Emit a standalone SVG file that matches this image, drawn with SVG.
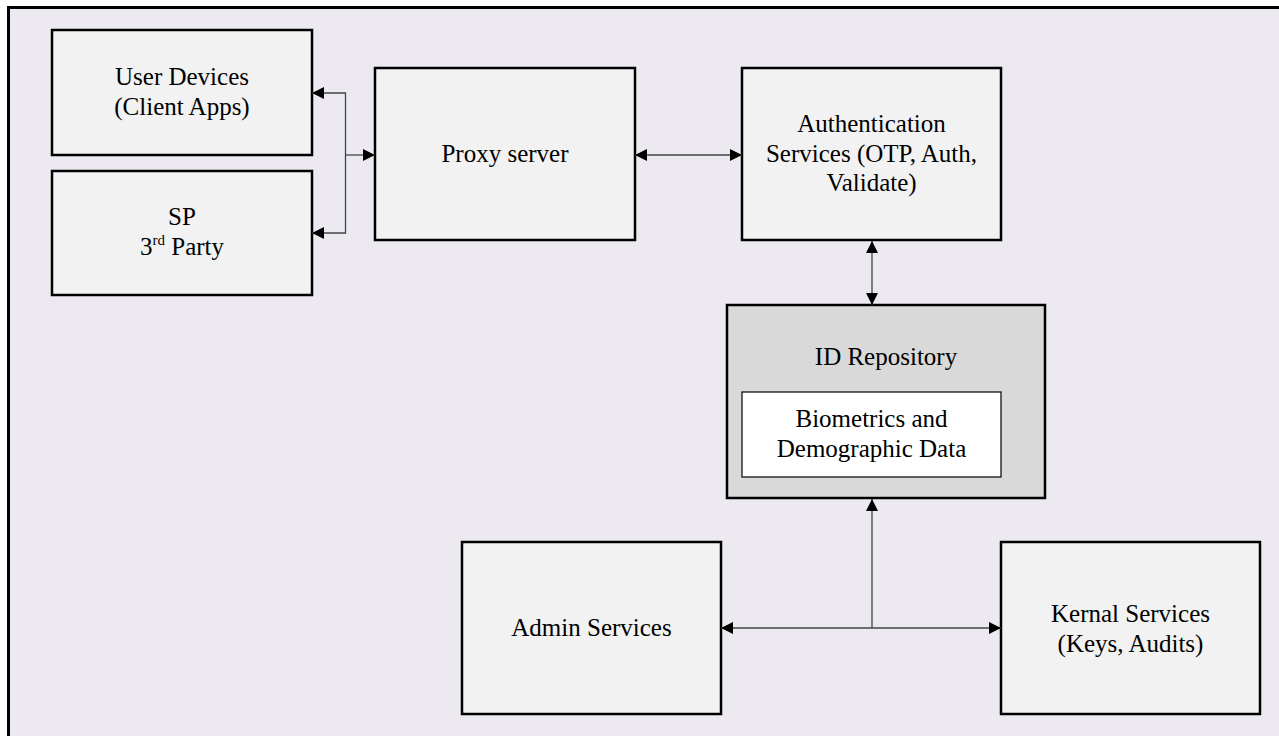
<svg xmlns="http://www.w3.org/2000/svg" width="1279" height="736" viewBox="0 0 1279 736">
<defs>
<style>
.box{fill:#f2f2f2;stroke:#000;stroke-width:2.5}
.t{font-family:"Liberation Serif","Times New Roman",serif;font-size:25px;fill:#000;text-anchor:middle}
.c{fill:none;stroke:#444;stroke-width:1.3}
</style>
<marker id="ah" viewBox="0 0 12 12" refX="12" refY="6" markerWidth="12" markerHeight="12" markerUnits="userSpaceOnUse" orient="auto-start-reverse">
<path d="M0,0 L12,6 L0,12 Z" fill="#000"/>
</marker>
</defs>
<rect x="0" y="0" width="1279" height="736" fill="#ffffff"/>
<rect x="8.5" y="7.5" width="1290" height="740" fill="#ece9f1" stroke="#000" stroke-width="3"/>

<g id="user-devices">
<rect class="box" x="52" y="30" width="260" height="125"/>
<text class="t" x="182" y="85">User Devices</text>
<text class="t" x="182" y="115">(Client Apps)</text>
</g>
<g id="sp">
<rect class="box" x="52" y="171" width="260" height="124"/>
<text class="t" x="182" y="225">SP</text>
<text class="t" x="182" y="255">3<tspan font-size="15" dy="-10">rd</tspan><tspan dy="10"> Party</tspan></text>
</g>
<g id="proxy">
<rect class="box" x="375" y="68" width="260" height="172"/>
<text class="t" x="505" y="162">Proxy server</text>
</g>
<g id="auth">
<rect class="box" x="742" y="68" width="259" height="172"/>
<text class="t" x="871.5" y="132">Authentication</text>
<text class="t" x="871.5" y="162">Services (OTP, Auth,</text>
<text class="t" x="871.5" y="191">Validate)</text>
</g>
<g id="id-repository">
<rect x="727" y="305" width="318" height="193" fill="#d9d9d9" stroke="#000" stroke-width="2.5"/>
<text class="t" x="886" y="365">ID Repository</text>
<g id="biometrics">
<rect x="742" y="392" width="259" height="85" fill="#ffffff" stroke="#000" stroke-width="1.2"/>
<text class="t" x="871.5" y="427">Biometrics and</text>
<text class="t" x="871.5" y="457">Demographic Data</text>
</g>
</g>
<g id="admin">
<rect class="box" x="462" y="542" width="259" height="172"/>
<text class="t" x="591.5" y="636">Admin Services</text>
</g>
<g id="kernal">
<rect class="box" x="1001" y="542" width="259" height="172"/>
<text class="t" x="1130.5" y="622">Kernal Services</text>
<text class="t" x="1130.5" y="652">(Keys, Audits)</text>
</g>

<g id="connectors">
<path class="c" d="M312,93 H345.5 V233 H312" marker-start="url(#ah)" marker-end="url(#ah)"/>
<path class="c" d="M345.5,155 H375" marker-end="url(#ah)"/>
<path class="c" d="M635,155 H742" marker-start="url(#ah)" marker-end="url(#ah)"/>
<path class="c" d="M872,241 V305" marker-start="url(#ah)" marker-end="url(#ah)"/>
<path class="c" d="M721,628 H1001" marker-start="url(#ah)" marker-end="url(#ah)"/>
<path class="c" d="M872,628 V499" marker-end="url(#ah)"/>
</g>
</svg>
